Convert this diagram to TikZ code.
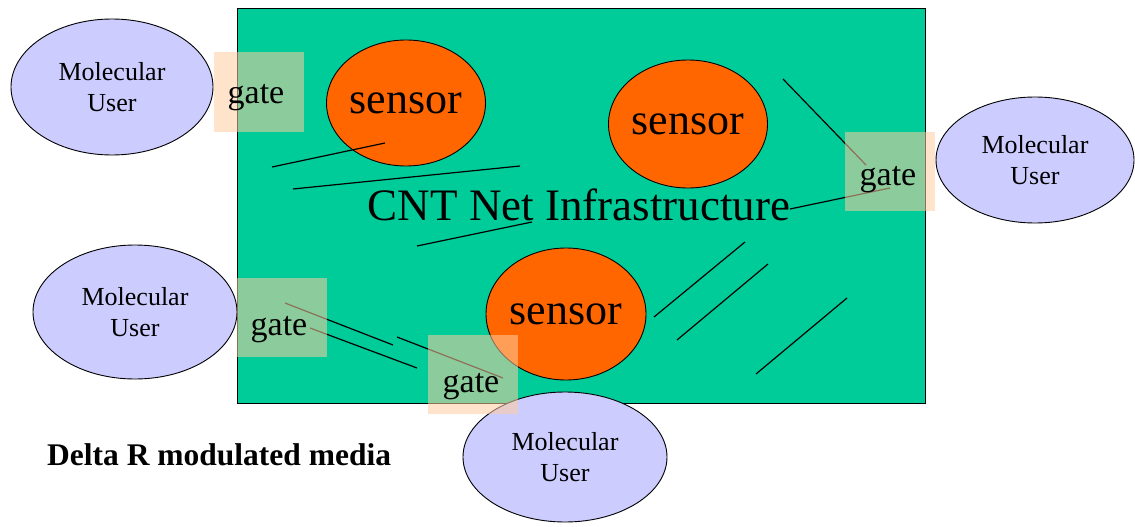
\documentclass[tikz,border=0pt]{standalone}
\usepackage{fontspec}
\setmainfont{Liberation Serif}
\usetikzlibrary{shapes.geometric}
\definecolor{netGreen}{RGB}{0,204,153}
\definecolor{sensorOrange}{RGB}{255,102,0}
\definecolor{userBlue}{RGB}{204,204,255}
\definecolor{gatePeach}{RGB}{255,205,160}

\begin{document}
\begin{tikzpicture}
[x=1pt,y=-1pt,
  wireDecorate/.style={-,line width=1.2pt},%
  sensorDecorate/.style={shape=ellipse,draw,line width=0.9pt,fill=sensorOrange,inner sep=0pt,font=\fontsize{44}{50}\selectfont},%
  userDecorate/.style={shape=ellipse,draw,line width=0.9pt,fill=userBlue,inner sep=0pt,align=center,font=\fontsize{26}{31}\selectfont},%
  gateDecorate/.style={shape=rectangle,fill=gatePeach,fill opacity=0.55,minimum width=90pt,minimum height=79pt,inner sep=0pt},%
  gateText/.style={anchor=base,inner sep=0pt,font=\fontsize{34}{40}\selectfont}]
\useasboundingbox (0,0) rectangle (1135,527);
%% the net
\node (net) at (581,205.5) [shape=rectangle,draw,line width=0.9pt,fill=netGreen,minimum width=688pt,minimum height=395pt,inner sep=0pt] {};
%% sensors
\foreach \nodename/\x/\y/\w/\h in {
  sensorA/406/103/158/126, sensorB/688/124/158/128, sensorC/566/314/160/132}
{
  \node (\nodename) at (\x,\y) [sensorDecorate,minimum width=\w pt,minimum height=\h pt] {sensor};
}
%% wire ends
\foreach \nodename/\x/\y in {
  wA1/272/167, wA2/385/143, wB1/293/189, wB2/520/166,
  wC1/417/246, wC2/532/222, wD1/783/79, wD2/866/165,
  wE1/790/209, wE2/890/188, wF1/285/303, wF2/393/345,
  wG1/310/328, wG2/417/368, wH1/397/337, wH2/503/378,
  wI1/654/317, wI2/745/242, wJ1/677/340, wJ2/768/264,
  wK1/756/374, wK2/847/298}
{
  \coordinate (\nodename) at (\x,\y);
}
%% wires
\foreach \startnode/\endnode in {
  wA1/wA2, wB1/wB2, wC1/wC2, wD1/wD2, wE1/wE2, wF1/wF2,
  wG1/wG2, wH1/wH2, wI1/wI2, wJ1/wJ2, wK1/wK2}
{
  \draw[wireDecorate] (\startnode) -- (\endnode);
}
%% molecular users
\foreach \nodename/\x/\y/\w/\h in {
  userA/112/87/202/136, userB/1035/160/198/126,
  userC/135/312/204/134, userD/565/457/204/130}
{
  \node (\nodename) at (\x,\y) [userDecorate,minimum width=\w pt,minimum height=\h pt] {Molecular\\User};
}
%% gates
\foreach \nodename/\x/\y/\tx/\ty in {
  gateA/258.5/92/256/103, gateB/890/171.5/888/185,
  gateC/282/317.5/279/335, gateD/473/374.5/471/392}
{
  \node (\nodename) at (\x,\y) [gateDecorate] {};
  \node (\nodename text) at (\tx,\ty) [gateText] {gate};
}
%% labels
\node (netLabel) at (579,220) [anchor=base,inner sep=0pt,font=\fontsize{45}{50}\selectfont] {CNT Net Infrastructure};
\node (mediaLabel) at (47,465) [anchor=base west,inner sep=0pt,font=\fontsize{31.5}{36}\selectfont\bfseries] {Delta R modulated media};
\end{tikzpicture}
\end{document}
